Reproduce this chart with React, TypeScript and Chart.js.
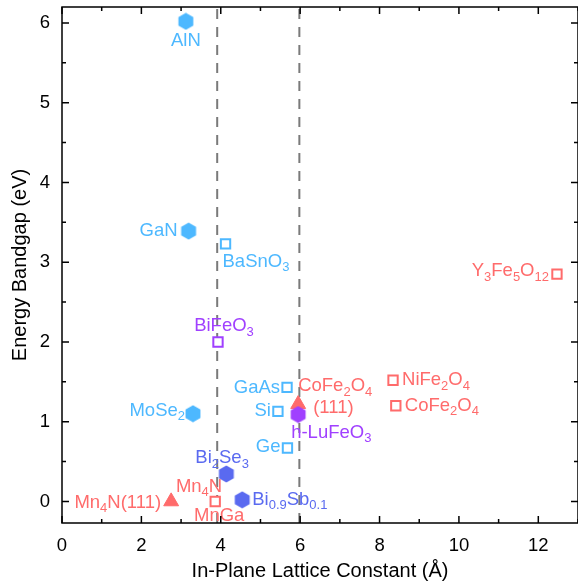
import React, { useEffect, useRef } from "react";
import { Chart, registerables } from "chart.js";

Chart.register(...registerables);

const FONT = "'Liberation Sans', Arial, Helvetica, sans-serif";

// ---- data ----
const materials = [
  "AlN", "GaN", "MoSe2", "BaSnO3", "GaAs", "Si", "Ge", "BiFeO3", "h-LuFeO3",
  "Bi2Se3", "Bi0.9Sb0.1", "Mn4N(111)", "CoFe2O4(111)", "Mn4N/MnGa",
  "NiFe2O4", "CoFe2O4", "Y3Fe5O12",
];
const latticeConstant = [
  3.12, 3.19, 3.3, 4.12, 5.67, 5.44, 5.68, 3.93, 5.95,
  4.14, 4.54, 2.75, 5.95, 3.86,
  8.34, 8.41, 12.47,
];
const bandgap = [
  6.02, 3.39, 1.1, 3.23, 1.43, 1.13, 0.67, 2.0, 1.09,
  0.345, 0.02, 0.0, 1.22, 0.0,
  1.52, 1.2, 2.85,
];
const markerGroup = [
  "blueHex", "blueHex", "blueHex", "blueSq", "blueSq", "blueSq", "blueSq", "purpleSq", "purpleHex",
  "indigoHex", "indigoHex", "redTri", "redTri", "redSq",
  "redSq", "redSq", "redSq",
];

// annotation texts ("_{..}" marks a subscript) and the material each belongs to
const labelTexts = [
  "AlN", "GaN", "MoSe_{2}", "BaSnO_{3}", "GaAs", "Si", "Ge", "BiFeO_{3}", "h-LuFeO_{3}",
  "Bi_{2}Se_{3}", "Bi_{0.9}Sb_{0.1}", "Mn_{4}N(111)", "CoFe_{2}O_{4}", "(111)", "Mn_{4}N", "MnGa",
  "NiFe_{2}O_{4}", "CoFe_{2}O_{4}", "Y_{3}Fe_{5}O_{12}",
];
const labelOwner = [0, 1, 2, 3, 4, 5, 6, 7, 8, 9, 10, 11, 12, 12, 13, 13, 14, 15, 16];

// vertical dashed reference lines (Å)
const refLinesX = [3.91, 5.98];

const xRange = [0, 13];
const yRange = [-0.27, 6.2];
const xTitle = "In-Plane Lattice Constant (Å)";
const yTitle = "Energy Bandgap (eV)";

// ---- styles ----
const groupColor: Record<string, string> = {
  blue: "#4db8ff",
  red: "#ff6b6b",
  purple: "#a040ff",
  indigo: "#5a6af0",
};
// label placement offsets in pixels: [dx, dy, align]
const labelPlacement: [number, number, CanvasTextAlign][] = [
  [0, 20, "center"], [-11, 0, "right"], [-8, -3, "right"], [-3, 18, "left"],
  [-7, 0, "right"], [-7, 0, "right"], [-7, -1, "right"], [6, -16, "center"],
  [-7, 18, "left"], [-31, -16, "left"], [10, 0, "left"], [-10, 1, "right"],
  [0, -18, "left"], [15, 4, "left"], [7, -15, "right"], [4, 14, "center"],
  [9, 0, "left"], [9, 0, "left"], [-8, -3, "right"],
];

function colorOfGroup(g: string) {
  return groupColor[g.replace(/(Hex|Sq|Tri)$/, "")];
}

function makeHexagon(color: string) {
  const c = document.createElement("canvas");
  c.width = 18;
  c.height = 18;
  const g = c.getContext("2d")!;
  const r = 8.6;
  g.beginPath();
  for (let k = 0; k < 6; k++) {
    const a = -Math.PI / 2 + (k * Math.PI) / 3;
    const px = 9 + r * Math.cos(a);
    const py = 9 + r * Math.sin(a);
    if (k === 0) g.moveTo(px, py);
    else g.lineTo(px, py);
  }
  g.closePath();
  g.fillStyle = color;
  g.fill();
  return c;
}

function parseRich(s: string) {
  const segs: { t: string; sub: boolean }[] = [];
  const re = /_\{([^}]*)\}|([^_]+)/g;
  let m;
  while ((m = re.exec(s))) {
    if (m[1] !== undefined) segs.push({ t: m[1], sub: true });
    else segs.push({ t: m[2], sub: false });
  }
  return segs;
}

const MAIN_FONT = `18.5px ${FONT}`;
const SUB_FONT = `13px ${FONT}`;
const TICK_FONT = `18.5px ${FONT}`;

const labelsPlugin = {
  id: "matLabels",
  afterDatasetsDraw(chart: any) {
    const { ctx, scales } = chart;
    ctx.save();
    ctx.textBaseline = "middle";
    labelTexts.forEach((txt, i) => {
      const owner = labelOwner[i];
      const px = scales.x.getPixelForValue(latticeConstant[owner]);
      const py = scales.y.getPixelForValue(bandgap[owner]);
      const [dx, dy, align] = labelPlacement[i];
      const segs = parseRich(txt);
      let w = 0;
      const widths = segs.map((s) => {
        ctx.font = s.sub ? SUB_FONT : MAIN_FONT;
        const mw = ctx.measureText(s.t).width;
        w += mw;
        return mw;
      });
      let x = px + dx;
      if (align === "right") x -= w;
      else if (align === "center") x -= w / 2;
      const y = py + dy;
      ctx.fillStyle = colorOfGroup(markerGroup[owner]);
      ctx.textAlign = "left";
      segs.forEach((s, k) => {
        ctx.font = s.sub ? SUB_FONT : MAIN_FONT;
        ctx.fillText(s.t, x, s.sub ? y + 6 : y);
        x += widths[k];
      });
    });
    ctx.restore();
  },
};

const isEven = (v: number) => Math.abs(v % 2) < 1e-9;
const isInt = (v: number) => Math.abs(v - Math.round(v)) < 1e-9;

const framePlugin = {
  id: "frame",
  afterDraw(chart: any) {
    const { ctx, chartArea: a, scales } = chart;
    ctx.save();
    ctx.strokeStyle = "#000";
    ctx.lineWidth = 1.5;
    ctx.beginPath();
    ctx.rect(a.left, a.top, a.right - a.left, a.bottom - a.top);
    ctx.stroke();
    ctx.beginPath();
    for (const t of scales.x.ticks) {
      const p = scales.x.getPixelForValue(t.value);
      const len = isEven(t.value) ? 7 : 4;
      ctx.moveTo(p, a.bottom);
      ctx.lineTo(p, a.bottom - len);
      ctx.moveTo(p, a.top);
      ctx.lineTo(p, a.top + len);
    }
    for (const t of scales.y.ticks) {
      const p = scales.y.getPixelForValue(t.value);
      const len = isInt(t.value) ? 7 : 4;
      ctx.moveTo(a.left, p);
      ctx.lineTo(a.left + len, p);
      ctx.moveTo(a.right, p);
      ctx.lineTo(a.right - len, p);
    }
    ctx.stroke();

    // tick labels
    ctx.fillStyle = "#000";
    ctx.font = TICK_FONT;
    ctx.textBaseline = "middle";
    ctx.textAlign = "center";
    for (const t of scales.x.ticks) {
      if (!isEven(t.value)) continue;
      ctx.fillText(String(Math.round(t.value)), scales.x.getPixelForValue(t.value), a.bottom + 23);
    }
    ctx.textAlign = "right";
    for (const t of scales.y.ticks) {
      if (!isInt(t.value)) continue;
      ctx.fillText(String(Math.round(t.value)), a.left - 12, scales.y.getPixelForValue(t.value));
    }
    ctx.restore();
  },
};

function zeroPadding(s: any) {
  s.paddingTop = 0;
  s.paddingBottom = 0;
  s.paddingLeft = 0;
  s.paddingRight = 0;
}

export default function App() {
  const ref = useRef<HTMLCanvasElement | null>(null);

  useEffect(() => {
    if (!ref.current) return;
    Chart.defaults.font.family = FONT;

    const groups = ["purpleHex", "indigoHex", "blueHex", "redTri", "purpleSq", "blueSq", "redSq"];
    const pointSets = groups.map((g) => {
      const color = colorOfGroup(g);
      const data = latticeConstant
        .map((x, i) => ({ x, y: bandgap[i], g: markerGroup[i] }))
        .filter((d) => d.g === g)
        .map((d) => ({ x: d.x, y: d.y }));
      let style: any = {};
      if (g.endsWith("Hex")) {
        style = { pointStyle: makeHexagon(color), pointRadius: 8, backgroundColor: color, borderColor: color };
      } else if (g.endsWith("Sq")) {
        style = { pointStyle: "rect", pointRadius: 6.6, pointBorderWidth: 2, backgroundColor: "#fff", borderColor: color };
      } else {
        style = { pointStyle: "triangle", pointRadius: 8.6, pointBorderWidth: 1, backgroundColor: color, borderColor: color };
      }
      return { type: "scatter" as const, label: g, data, showLine: false, ...style };
    });

    const lineSets = refLinesX.map((x) => ({
      type: "line" as const,
      label: "ref" + x,
      data: [{ x, y: yRange[0] }, { x, y: yRange[1] }],
      borderColor: "#7a7a7a",
      borderWidth: 2,
      borderDash: [10, 8],
      pointRadius: 0,
      fill: false,
    }));

    const chart = new Chart(ref.current, {
      type: "scatter",
      data: { datasets: [...pointSets, ...lineSets] as any },
      options: {
        responsive: false,
        animation: false,
        layout: { autoPadding: false, padding: { left: 0, top: 7, right: 0, bottom: 0 } },
        plugins: { legend: { display: false }, tooltip: { enabled: false } },
        scales: {
          x: {
            type: "linear",
            min: xRange[0],
            max: xRange[1],
            afterFit: (s: any) => { s.height = 60; zeroPadding(s); },
            grid: { display: false, drawTicks: false },
            border: { display: false },
            ticks: { display: false, stepSize: 1, includeBounds: false, autoSkip: false },
            title: {
              display: true,
              text: xTitle,
              color: "#000",
              font: { size: 20, family: FONT },
              padding: { top: 0, bottom: 0 },
            },
          },
          y: {
            type: "linear",
            min: yRange[0],
            max: yRange[1],
            afterFit: (s: any) => { s.width = 62; zeroPadding(s); },
            grid: { display: false, drawTicks: false },
            border: { display: false },
            ticks: { display: false, stepSize: 0.5, includeBounds: false, autoSkip: false },
            title: {
              display: true,
              text: yTitle,
              color: "#000",
              font: { size: 20, family: FONT },
              padding: { top: 8, bottom: 0 },
            },
          },
        },
      },
      plugins: [labelsPlugin, framePlugin],
    });
    return () => chart.destroy();
  }, []);

  return (
    <div style={{ position: "absolute", left: 0, top: 0, width: 578, height: 583 }}>
      <canvas ref={ref} width={578} height={583} style={{ display: "block" }} />
    </div>
  );
}
